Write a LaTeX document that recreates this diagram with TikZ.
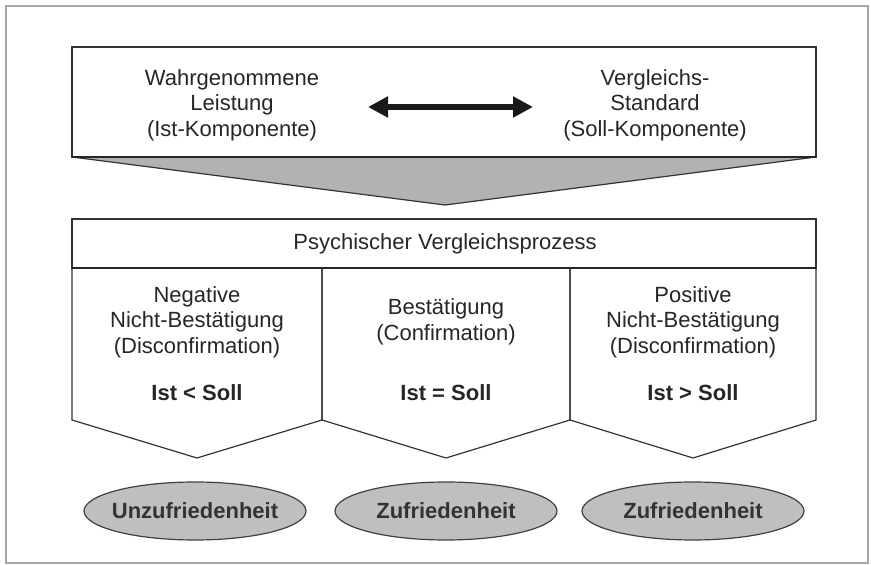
\documentclass[tikz,border=0pt]{standalone}
\usepackage{fontspec}
\setmainfont{Liberation Sans}
\usepackage{tikz}
\usetikzlibrary{arrows.meta,shapes.geometric}

\begin{document}
\begin{tikzpicture}[
        x=0.5pt, y=-0.5pt,
        line/.style={draw=black!80, line width=0.6pt},
        txt/.style={align=center, text=black!85,
          font=\fontsize{11}{12.7}\selectfont},
        cmp/.style={txt, font=\bfseries\fontsize{11}{12.7}\selectfont},
        res/.style={draw=black!75, fill=gray!50, line width=0.6pt},
        restxt/.style={text=black!80, font=\bfseries\fontsize{11}{13}\selectfont}
      ]
        \useasboundingbox (0,0) rectangle (871,565);
        % Frame
        \draw[gray!70, line width=1pt] (6,6) rectangle (868,563);
        % Comparison
        \fill[gray!60] (72,157) -- (816,157) -- (445,205) -- cycle;
        \draw[line] (72,157) -- (445,205) -- (816,157);
        \draw[line] (72,47) rectangle (816,157);
        \draw[black!85, line width=1.2pt] (72,157) -- (816,157);
        \node[txt] (ist) at (232,105) {Wahrgenommene\\Leistung\\(Ist-Komponente)};
        \node[txt] (soll) at (655,105) {Vergleichs-\\Standard\\(Soll-Komponente)};
        \coordinate (al) at (368,107);
        \coordinate (ar) at (533,107);
        \draw[black!90, line width=3pt,
          {Triangle[length=10pt,width=10pt]}-{Triangle[length=10pt,width=10pt]}]
          (al) -- (ar);
        % Process
        \draw[line] (72,219) rectangle (816,268);
        \node[txt] (proc) at (445,244) {Psychischer Vergleichsprozess};
        \foreach \xl/\xr in {72/322, 322/570, 570/816}
          \draw[line] (\xl,268) -- (\xl,420) -- ({(\xl+\xr)/2},458)
            -- (\xr,420) -- (\xr,268);
        \draw[black!85, line width=1.2pt] (72,268) -- (816,268);
        \node[txt] (neg) at (197,322) {Negative\\Nicht-Bestätigung\\(Disconfirmation)};
        \node[txt] (best) at (446,322) {Bestätigung\\(Confirmation)};
        \node[txt] (pos) at (693,322) {Positive\\Nicht-Bestätigung\\(Disconfirmation)};
        \node[cmp] (lt) at (197,393) {Ist < Soll};
        \node[cmp] (eq) at (446,393) {Ist = Soll};
        \node[cmp] (gt) at (693,393) {Ist > Soll};
        % Results
        \path[res] (195,511) ellipse [x radius=111, y radius=29]
          node[restxt] (unz) {Unzufriedenheit};
        \path[res] (446,511) ellipse [x radius=111, y radius=29]
          node[restxt] (zuf) {Zufriedenheit};
        \path[res] (693,511) ellipse [x radius=111, y radius=29]
          node[restxt] (zufp) {Zufriedenheit};
      \end{tikzpicture}
\end{document}
